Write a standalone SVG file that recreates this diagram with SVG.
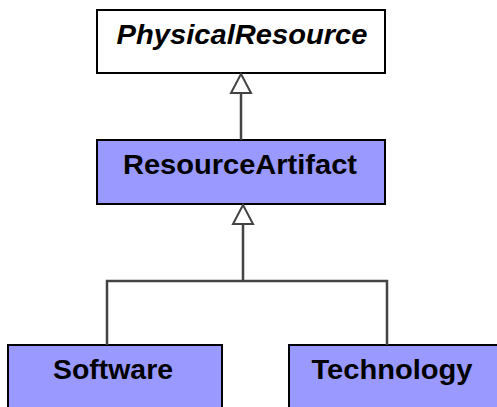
<svg xmlns="http://www.w3.org/2000/svg" width="497" height="407" viewBox="0 0 497 407">
<style>
.box{stroke:#000;stroke-width:2}
.abs{fill:#fff}
.cls{fill:#9999ff}
.lbl{font-family:"Liberation Sans",Arial,sans-serif;font-size:28px;font-weight:bold;text-anchor:middle;fill:#000}
.conn{fill:none;stroke:#444;stroke-width:2.5}
.head{fill:#fff;stroke:#444;stroke-width:2}
</style>
<g id="PhysicalResource">
<rect class="box abs" x="97" y="10" width="288" height="63"/>
<text class="lbl" x="242" y="44" font-style="italic" textLength="251" lengthAdjust="spacingAndGlyphs">PhysicalResource</text>
</g>
<g id="ResourceArtifact">
<rect class="box cls" x="97" y="140" width="288" height="64"/>
<text class="lbl" x="240" y="174" textLength="234" lengthAdjust="spacingAndGlyphs">ResourceArtifact</text>
</g>
<g id="Software">
<rect class="box cls" x="8" y="345" width="214" height="70"/>
<text class="lbl" x="113" y="379" textLength="120" lengthAdjust="spacingAndGlyphs">Software</text>
</g>
<g id="Technology">
<rect class="box cls" x="289" y="345" width="220" height="70"/>
<text class="lbl" x="392" y="379" textLength="161" lengthAdjust="spacingAndGlyphs">Technology</text>
</g>
<g id="connectors">
<path class="conn" d="M241 93V140"/>
<path class="head" d="M241 74L231 93H251Z"/>
<path class="conn" d="M243 224V281M107 345V281H387V345"/>
<path class="head" d="M243 205L233 224H253Z"/>
</g>
</svg>
